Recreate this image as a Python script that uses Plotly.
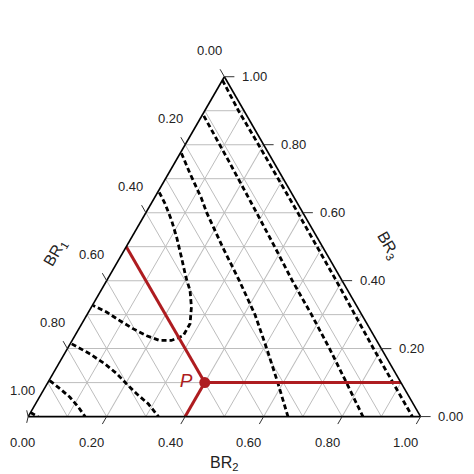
import math

import plotly.graph_objects as go

# ternary readings: BR3 is the top vertex, BR1 bottom-left, BR2 bottom-right
# each dashed curve is given as (BR1, BR3); plotly fills BR2 = 1 - BR1 - BR3

tick_vals = [0.0, 0.2, 0.4, 0.6, 0.8, 1.0]
tick_labels = ['0.00', '0.20', '0.40', '0.60', '0.80', '1.00']
minor_grid = [0.1, 0.3, 0.5, 0.7, 0.9]

curve_a_br1 = [0.010, 0.014, 0.013, 0.013, 0.015, 0.020, 0.021]
curve_a_br3 = [0.990, 0.900, 0.800, 0.600, 0.400, 0.200, 0.000]

curve_b_br1 = [0.110, 0.113, 0.118, 0.122, 0.127, 0.128, 0.132, 0.139, 0.147]
curve_b_br3 = [0.885, 0.750, 0.600, 0.500, 0.400, 0.300, 0.200, 0.100, 0.000]

curve_c_br1 = [0.222, 0.230, 0.237, 0.245, 0.255, 0.262, 0.272, 0.292, 0.314, 0.338]
curve_c_br3 = [0.775, 0.715, 0.645, 0.600, 0.500, 0.400, 0.300, 0.200, 0.100, 0.000]

curve_u_br1 = [0.336, 0.338, 0.346, 0.358, 0.375, 0.393, 0.402, 0.423, 0.451,
               0.486, 0.523, 0.553, 0.579, 0.603, 0.625, 0.646, 0.671]
curve_u_br3 = [0.660, 0.626, 0.577, 0.527, 0.469, 0.410, 0.371, 0.322, 0.273,
               0.238, 0.224, 0.224, 0.238, 0.258, 0.282, 0.307, 0.327]

curve_d_br1 = [0.782, 0.750, 0.727, 0.711, 0.701, 0.690, 0.675, 0.668]
curve_d_br3 = [0.214, 0.184, 0.155, 0.126, 0.096, 0.067, 0.037, 0.000]

curve_e_br1 = [0.892, 0.878, 0.865, 0.858, 0.855]
curve_e_br3 = [0.106, 0.082, 0.057, 0.027, 0.000]

curve_f_br1 = [0.988, 0.975]
curve_f_br3 = [0.012, 0.000]

# point P and its guide lines to the three edges
p_br1 = [0.5]
p_br3 = [0.1]
guide_br1 = [0.5, 0.5, None, 0.5, 0.0, None, 0.5, 0.6]
guide_br3 = [0.5, 0.1, None, 0.1, 0.1, None, 0.1, 0.0]

RED = '#AE1C20'
GRID = '#BDBDBD'
INK = '#222222'
FONT = 'Liberation Sans, Arial, sans-serif'
W = H = 474
DOM_X = [0.042, 0.871]
DOM_Y = [0.138, 0.855]

fig = go.Figure()

# grid lines at the odd tenths (the axes only carry the 0.2 ones)
grid_a, grid_b = [], []
for v in minor_grid:
    grid_a += [v, v, None]
    grid_b += [1 - v, 0, None]
fig.add_trace(go.Scatterternary(a=grid_a, b=grid_b, mode='lines',
                                line=dict(color=GRID, width=1), hoverinfo='skip'))
grid_a, grid_b = [], []
for v in minor_grid:
    grid_a += [1 - v, 0, None]
    grid_b += [v, v, None]
fig.add_trace(go.Scatterternary(a=grid_a, b=grid_b, mode='lines',
                                line=dict(color=GRID, width=1), hoverinfo='skip'))
grid_a, grid_c = [], []
for v in minor_grid:
    grid_a += [1 - v, 0, None]
    grid_c += [v, v, None]
fig.add_trace(go.Scatterternary(a=grid_a, c=grid_c, mode='lines',
                                line=dict(color=GRID, width=1), hoverinfo='skip'))

curves = [(curve_a_br1, curve_a_br3), (curve_b_br1, curve_b_br3),
          (curve_c_br1, curve_c_br3), (curve_u_br1, curve_u_br3),
          (curve_d_br1, curve_d_br3), (curve_e_br1, curve_e_br3),
          (curve_f_br1, curve_f_br3)]
for br1, br3 in curves:
    fig.add_trace(go.Scatterternary(a=br3, b=br1, mode='lines',
                                    line=dict(color='black', width=2.8, dash='5px,3px'),
                                    hoverinfo='skip'))

fig.add_trace(go.Scatterternary(a=guide_br3, b=guide_br1, mode='lines',
                                line=dict(color=RED, width=3), hoverinfo='skip'))
fig.add_trace(go.Scatterternary(a=p_br3, b=p_br1, mode='markers+text', text=['P '],
                                textposition='middle left',
                                textfont=dict(family=FONT, size=19, color=RED, style='italic'),
                                marker=dict(color=RED, size=11), hoverinfo='skip'))


# plotly can only label the ternary edges clockwise, the source runs them the other way,
# so the edge labels are annotations pinned where plotly puts the triangle inside DOM_X/DOM_Y
def edge_to_paper(br2, br3):
    wmax = (DOM_X[1] - DOM_X[0]) * W
    hmax = (DOM_Y[1] - DOM_Y[0]) * H
    w_over_h = 2 / math.sqrt(3)
    if wmax > w_over_h * hmax:
        h = hmax
        w = h * w_over_h
    else:
        w = wmax
        h = w / w_over_h
    x0 = (DOM_X[0] + DOM_X[1]) / 2 * W - w / 2
    y0 = (DOM_Y[0] + DOM_Y[1]) / 2 * H - h / 2
    return (x0 + (br2 + br3 / 2) * w) / W, (y0 + br3 * h) / H


tick_style = dict(xref='paper', yref='paper', axref='pixel', ayref='pixel', showarrow=True,
                  arrowhead=0, arrowwidth=1, arrowcolor='#333333', standoff=0,
                  font=dict(family=FONT, size=13, color=INK))
annotations = []
for v, lab in zip(tick_vals, tick_labels):
    # BR1 on the left edge, tick along the constant-BR1 direction
    # (the bottom one is pulled in a bit so it stays on the page)
    x, y = edge_to_paper(0.0, 1 - v)
    ax = -6 if v == 1.0 else -15
    annotations.append(dict(text=lab, x=x, y=y, ax=ax, ay=-26, startstandoff=11, **tick_style))
    # BR2 on the bottom edge
    x, y = edge_to_paper(v, 0.0)
    ax = -6 if v == 0.0 else -15
    annotations.append(dict(text=lab, x=x, y=y, ax=ax, ay=26, startstandoff=11, **tick_style))
    # BR3 on the right edge, horizontal ticks
    x, y = edge_to_paper(1 - v, v)
    annotations.append(dict(text=lab, x=x, y=y, ax=30, ay=0, startstandoff=6, **tick_style))

title_font = dict(family=FONT, size=16, color=INK)
annotations += [
    dict(text='BR<sub>1</sub>', x=47 / W, y=1 - 245 / H, xref='paper', yref='paper',
         xanchor='center', yanchor='middle', showarrow=False, textangle=-60, font=title_font),
    dict(text='BR<sub>2</sub>', x=216 / W, y=1 - 455 / H, xref='paper', yref='paper',
         xanchor='center', yanchor='middle', showarrow=False, font=title_font),
    dict(text='BR<sub>3</sub>', x=380 / W, y=1 - 237 / H, xref='paper', yref='paper',
         xanchor='center', yanchor='middle', showarrow=False, textangle=60, font=title_font),
]

axis_style = dict(tickvals=tick_vals, ticks='', showticklabels=False,
                  showgrid=True, gridcolor=GRID, gridwidth=1,
                  linecolor='black', linewidth=1.6, showline=True, title=dict(text=''))

fig.update_layout(
    width=W, height=H,
    margin=dict(l=0, r=0, t=0, b=0),
    paper_bgcolor='white',
    showlegend=False,
    ternary=dict(sum=1, bgcolor='white', domain=dict(x=DOM_X, y=DOM_Y),
                 aaxis=axis_style, baxis=axis_style, caxis=axis_style),
    annotations=annotations,
)

fig.write_html("out.html")
